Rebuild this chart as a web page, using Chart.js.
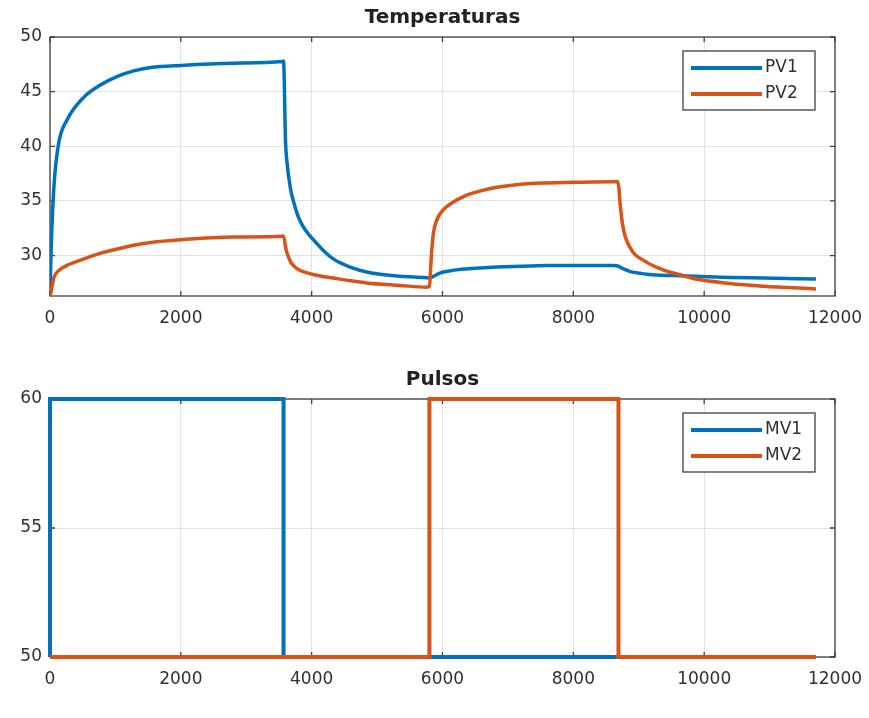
<!DOCTYPE html>
<html>
<head>
<meta charset="utf-8">
<script src="https://cdn.jsdelivr.net/npm/chart.js@4.4.1/dist/chart.umd.min.js"></script>
<style>
  html, body { margin: 0; padding: 0; background: #fff; }
  #wrap { position: relative; width: 869px; height: 718px; }
  .box { position: absolute; left: 0; width: 869px; }
</style>
</head>
<body>
<div id="wrap">
  <div class="box" style="top:0;height:340px"><canvas id="tempChart"></canvas></div>
  <div class="box" style="top:340px;height:378px"><canvas id="pulseChart"></canvas></div>
</div>
<script>
// values (time in s)
const timeS = [0, 20, 60, 130, 260, 520, 770, 1030, 1280, 1540, 2000, 2800, 3550, 3570, 3600, 3620, 3680, 3720, 3820, 4080, 4330, 4590, 4840, 5350, 5760, 5800, 5830, 5860, 5910, 5960, 6060, 6320, 6570, 6830, 7340, 7590, 8000, 8610, 8680, 8700, 8710, 8760, 8860, 9120, 9370, 9630, 9880, 10390, 10900, 11710];
const pv1 = [26.5, 31, 36.3, 40.2, 42.4, 44.5, 45.6, 46.4, 46.9, 47.2, 47.4, 47.6, 47.75, 47.8, 40.5, 38.7, 36.0, 35.0, 33.2, 31.1, 29.7, 28.95, 28.5, 28.1, 27.98, 27.95, 28.0, 28.1, 28.25, 28.4, 28.55, 28.77, 28.87, 28.95, 29.05, 29.08, 29.1, 29.1, 29.05, 29.0, 28.95, 28.8, 28.55, 28.3, 28.2, 28.15, 28.1, 28.0, 27.95, 27.85];
const pv2 = [26.3, 26.8, 28.0, 28.6, 29.1, 29.7, 30.2, 30.6, 30.95, 31.2, 31.45, 31.7, 31.77, 31.8, 30.8, 30.3, 29.4, 29.1, 28.65, 28.2, 27.95, 27.7, 27.5, 27.27, 27.1, 27.2, 30.0, 32.0, 33.2, 33.8, 34.45, 35.4, 35.9, 36.25, 36.6, 36.65, 36.7, 36.75, 36.75, 36.0, 35.1, 32.6, 30.8, 29.4, 28.7, 28.25, 27.85, 27.45, 27.2, 26.95];

const mv1Time = [0, 0, 3570, 3570, 11710];
const mv1 = [50, 60, 60, 50, 50];
const mv2Time = [0, 5800, 5800, 8690, 8690, 11710];
const mv2 = [50, 50, 60, 60, 50, 50];

const xTicks = [0, 2000, 4000, 6000, 8000, 10000, 12000];
const tempTicks = [30, 35, 40, 45, 50];
const pulseTicks = [50, 55, 60];

const BLUE = "#0072BD";
const ORANGE = "#D95319";
const TEXT = "#303030";
const FONT = "DejaVu Sans";

const toPoints = (xs, ys) => xs.map((x, i) => ({ x: x, y: ys[i] }));

// box round the axes plus inward tick marks, like the original figure
const framePlugin = {
  id: "frame",
  beforeDatasetsDraw(chart) {
    const { ctx, chartArea: a, scales } = chart;
    ctx.save();
    ctx.strokeStyle = "#404040";
    ctx.lineWidth = 1.3;
    ctx.strokeRect(a.left, a.top, a.right - a.left, a.bottom - a.top);
    ctx.beginPath();
    scales.x.ticks.forEach(t => {
      const px = scales.x.getPixelForValue(t.value);
      ctx.moveTo(px, a.bottom); ctx.lineTo(px, a.bottom - 5);
      ctx.moveTo(px, a.top); ctx.lineTo(px, a.top + 5);
    });
    scales.y.ticks.forEach(t => {
      const py = scales.y.getPixelForValue(t.value);
      ctx.moveTo(a.left, py); ctx.lineTo(a.left + 5, py);
      ctx.moveTo(a.right, py); ctx.lineTo(a.right - 5, py);
    });
    ctx.stroke();
    ctx.restore();
  }
};

const titlePlugin = {
  id: "figTitle",
  afterDraw(chart, args, opts) {
    const { ctx, chartArea: a } = chart;
    ctx.save();
    ctx.font = "bold 20px '" + FONT + "'";
    ctx.fillStyle = "#222";
    ctx.textAlign = "center";
    ctx.textBaseline = "middle";
    ctx.fillText(opts.text, (a.left + a.right) / 2, a.top - 19);
    ctx.restore();
  }
};

// legend box inside the plot, top right
const boxLegendPlugin = {
  id: "boxLegend",
  afterDraw(chart) {
    const { ctx, chartArea: a } = chart;
    const w = 132, h = 59;
    const x0 = a.right - 20 - w, y0 = a.top + 14;
    ctx.save();
    ctx.fillStyle = "#fff";
    ctx.fillRect(x0, y0, w, h);
    ctx.strokeStyle = "#404040";
    ctx.lineWidth = 1.3;
    ctx.strokeRect(x0, y0, w, h);
    ctx.font = "17px '" + FONT + "'";
    ctx.textBaseline = "middle";
    ctx.fillStyle = TEXT;
    chart.data.datasets.forEach((ds, i) => {
      const y = y0 + 17 + i * 26;
      ctx.strokeStyle = ds.borderColor;
      ctx.lineWidth = 4;
      ctx.beginPath();
      ctx.moveTo(x0 + 8, y);
      ctx.lineTo(x0 + 79, y);
      ctx.stroke();
      ctx.fillText(ds.label, x0 + 82, y);
    });
    ctx.restore();
  }
};

function axes(yMin, yMax, yTicks) {
  const tickFont = { family: FONT, size: 17 };
  return {
    x: {
      type: "linear", min: 0, max: 12000,
      afterBuildTicks: s => { s.ticks = xTicks.map(v => ({ value: v })); },
      afterFit: s => { s.height = 40; s.paddingLeft = 0; s.paddingRight = 0; },
      ticks: { font: tickFont, color: TEXT, padding: 12, maxRotation: 0, autoSkip: false, callback: v => String(v) },
      grid: { color: "#e2e2e2", drawTicks: false },
      border: { display: false }
    },
    y: {
      type: "linear", min: yMin, max: yMax,
      afterBuildTicks: s => { s.ticks = yTicks.map(v => ({ value: v })); },
      afterFit: s => { s.width = 50; s.paddingTop = 0; s.paddingBottom = 0; },
      ticks: { font: tickFont, color: TEXT, padding: 8, callback: v => String(v) },
      grid: { color: "#e2e2e2", drawTicks: false },
      border: { display: false }
    }
  };
}

new Chart(document.getElementById("tempChart"), {
  type: "line",
  data: {
    datasets: [
      { label: "PV1", data: toPoints(timeS, pv1), borderColor: BLUE, borderWidth: 3.5, pointRadius: 0, cubicInterpolationMode: "monotone", order: 1 },
      { label: "PV2", data: toPoints(timeS, pv2), borderColor: ORANGE, borderWidth: 3.5, pointRadius: 0, cubicInterpolationMode: "monotone", order: 0 }
    ]
  },
  options: {
    animation: false, responsive: true, maintainAspectRatio: false,
    layout: { padding: { top: 37, right: 34, bottom: 4, left: 0 } },
    scales: axes(26.3, 50, tempTicks),
    plugins: { legend: { display: false }, tooltip: { enabled: false }, figTitle: { text: "Temperaturas" } }
  },
  plugins: [framePlugin, titlePlugin, boxLegendPlugin]
});

new Chart(document.getElementById("pulseChart"), {
  type: "line",
  data: {
    datasets: [
      { label: "MV1", data: toPoints(mv1Time, mv1), borderColor: BLUE, borderWidth: 4, pointRadius: 0, tension: 0, clip: 4, order: 1 },
      { label: "MV2", data: toPoints(mv2Time, mv2), borderColor: ORANGE, borderWidth: 4, pointRadius: 0, tension: 0, clip: 4, order: 0 }
    ]
  },
  options: {
    animation: false, responsive: true, maintainAspectRatio: false,
    layout: { padding: { top: 59, right: 34, bottom: 21, left: 0 } },
    scales: axes(50, 60, pulseTicks),
    plugins: { legend: { display: false }, tooltip: { enabled: false }, figTitle: { text: "Pulsos" } }
  },
  plugins: [framePlugin, titlePlugin, boxLegendPlugin]
});
</script>
</body>
</html>
